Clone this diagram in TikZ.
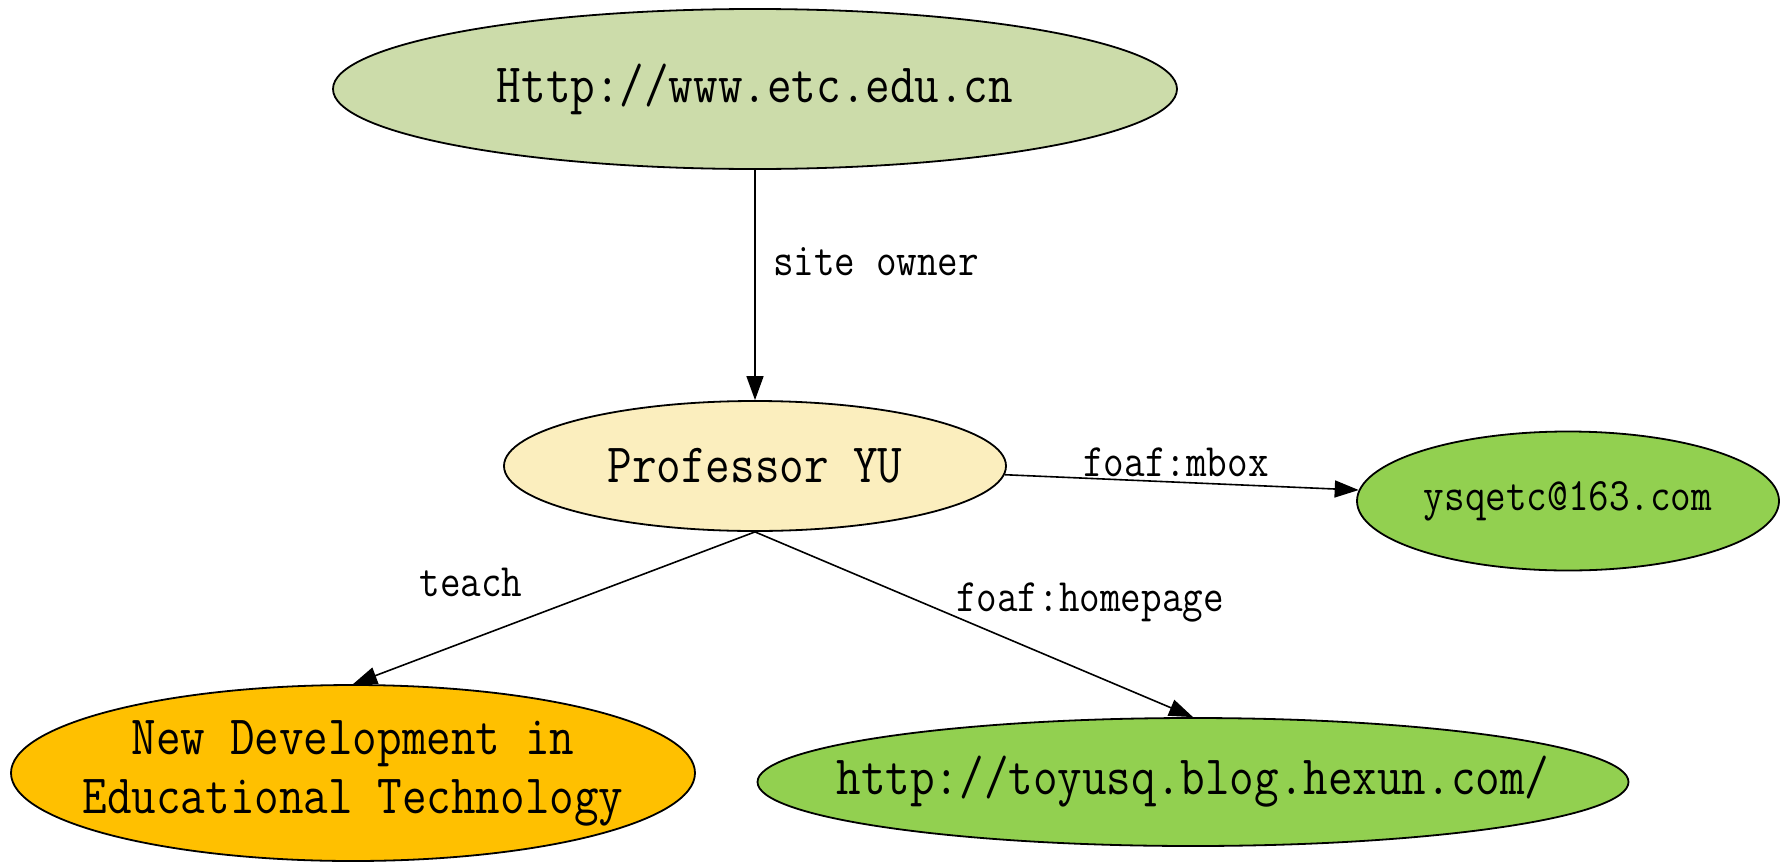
\documentclass[tikz,border=0pt]{standalone}
\usepackage{fontspec}
\setmonofont[FakeStretch=0.86]{Latin Modern Mono}
\usetikzlibrary{arrows.meta,shapes.geometric}
\definecolor{sitegreen}{RGB}{204,220,170}
\definecolor{personyellow}{RGB}{251,238,190}
\definecolor{leafgreen}{RGB}{146,208,80}
\definecolor{courseorange}{RGB}{255,192,0}
\tikzset{
  bubble/.style={ellipse, draw=black, line width=1.8pt, inner sep=0pt},
  bigtext/.style={inner sep=0pt, align=center, text=black,
    font=\ttfamily\fontsize{55.5}{59}\selectfont},
  smalltext/.style={inner sep=0pt, text=black,
    font=\ttfamily\fontsize{46.5}{50}\selectfont},
  link/.style={line width=1.6pt, draw=black,
    -{Triangle[length=24pt,width=17pt]}}
}
\begin{document}
\begin{tikzpicture}[x=1pt,y=-1pt]
\useasboundingbox (0,0) rectangle (1788,862);

% resources
\node[bubble, fill=sitegreen, minimum width=844pt, minimum height=160pt] (T) at (755,89) {};
\node[bigtext] (Tt) at (T) {Http://www.etc.edu.cn};

\node[bubble, fill=personyellow, minimum width=502pt, minimum height=130pt] (P) at (755,466) {};
\node[bigtext] (Pt) at (P) {Professor YU};

\node[bubble, fill=leafgreen, minimum width=422pt, minimum height=139pt] (Y) at (1568,501) {};
\node[smalltext] (Yt) at (Y) {ysqetc@163.com};

\node[bubble, fill=courseorange, minimum width=684pt, minimum height=176pt] (N) at (353,773) {};
\node[bigtext] (Nt) at (N) {New Development in\\Educational Technology};

\node[bubble, fill=leafgreen, minimum width=871pt, minimum height=128pt] (H) at (1193,782) {};
\node[bigtext] (Ht) at (H) {http://toyusq.blog.hexun.com/};

% properties
\draw[link] (T.south) -- (P.north);
\draw[link] (P.-2.5) -- (Y.177.5);
\draw[link] (P.south) -- (N.north);
\draw[link] (P.south) -- (H.north);

% property labels
\node[smalltext, anchor=west] (l1) at (773,262) {site owner};
\node[smalltext] (l2) at (1176,462) {foaf:mbox};
\node[smalltext] (l3) at (471,582) {teach};
\node[smalltext] (l4) at (1090,602) {foaf:homepage};
\end{tikzpicture}
\end{document}
